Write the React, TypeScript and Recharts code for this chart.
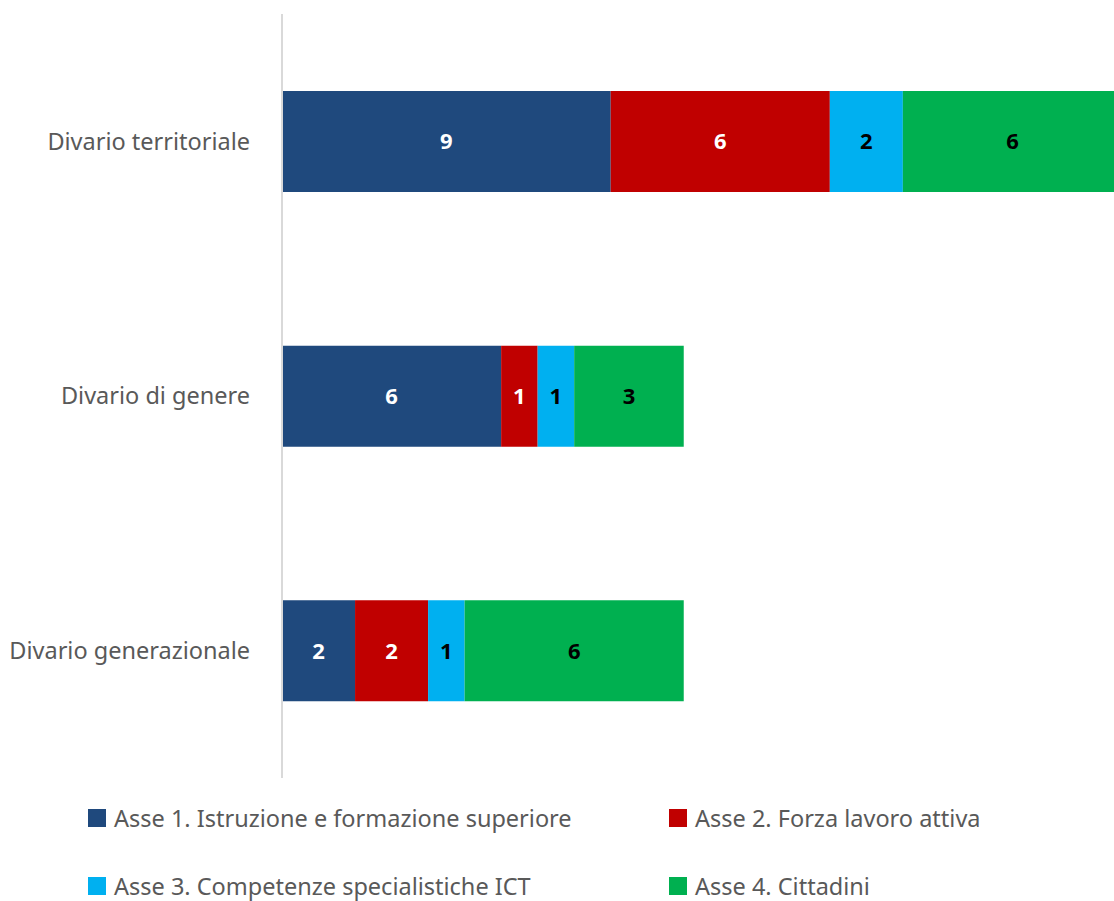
import { Bar, BarChart, LabelList, Legend, XAxis, YAxis } from "recharts";

const categories = ["Divario territoriale", "Divario di genere", "Divario generazionale"];
const asse1 = [9, 6, 2];
const asse2 = [6, 1, 2];
const asse3 = [2, 1, 1];
const asse4 = [6, 3, 6];

const seriesNames = [
  "Asse 1. Istruzione e formazione superiore",
  "Asse 2. Forza lavoro attiva",
  "Asse 3. Competenze specialistiche ICT",
  "Asse 4. Cittadini",
];
const seriesColors = ["#1f497d", "#c00000", "#00b0f0", "#00b050"];
const labelColors = ["#ffffff", "#ffffff", "#000000", "#000000"];

const FONT = '"Noto Sans", sans-serif';

const data = categories.map((name, i) => ({
  name,
  a1: asse1[i],
  a2: asse2[i],
  a3: asse3[i],
  a4: asse4[i],
}));

const keys = ["a1", "a2", "a3", "a4"];

function LegendBlock() {
  return (
    <div
      style={{
        display: "grid",
        gridTemplateColumns: "581px 420px",
        rowGap: 40,
        paddingLeft: 88,
        fontFamily: FONT,
        fontSize: 23.5,
        color: "#595959",
      }}
    >
      {seriesNames.map((label, i) => (
        <div key={label} style={{ display: "flex", alignItems: "center", height: 28, whiteSpace: "nowrap" }}>
          <span
            style={{
              width: 18,
              height: 18,
              background: seriesColors[i],
              marginRight: 8,
              display: "inline-block",
              flexShrink: 0,
            }}
          />
          {label}
        </div>
      ))}
    </div>
  );
}

export default function App() {
  return (
    <div
      style={{
        position: "absolute",
        top: 0,
        left: 0,
        width: 1114,
        height: 901,
        overflow: "hidden",
        background: "#fff",
      }}
    >
      <BarChart
        width={1122}
        height={901}
        data={data}
        layout="vertical"
        margin={{ top: 14, right: 0, left: 0, bottom: 123 }}
      >
        <XAxis type="number" domain={[0, 23]} hide />
        <YAxis
          type="category"
          dataKey="name"
          width={282}
          axisLine={{ stroke: "#d9d9d9", strokeWidth: 2 }}
          tickLine={false}
          tickMargin={26}
          tick={{ fill: "#595959", fontSize: 23.5, fontFamily: FONT }}
        />
        {/* middle alignment keeps the legend from shrinking the plot area */}
        <Legend
          verticalAlign="middle"
          wrapperStyle={{ top: 804, left: 0, width: 1114 }}
          content={() => <LegendBlock />}
        />
        {keys.map((key, i) => (
          <Bar
            key={key}
            dataKey={key}
            name={seriesNames[i]}
            stackId="total"
            fill={seriesColors[i]}
            barSize={101}
            isAnimationActive={false}
          >
            <LabelList
              dataKey={key}
              position="center"
              fill={labelColors[i]}
              style={{ fontSize: 22, fontWeight: 700, fontFamily: FONT }}
            />
          </Bar>
        ))}
      </BarChart>
    </div>
  );
}
